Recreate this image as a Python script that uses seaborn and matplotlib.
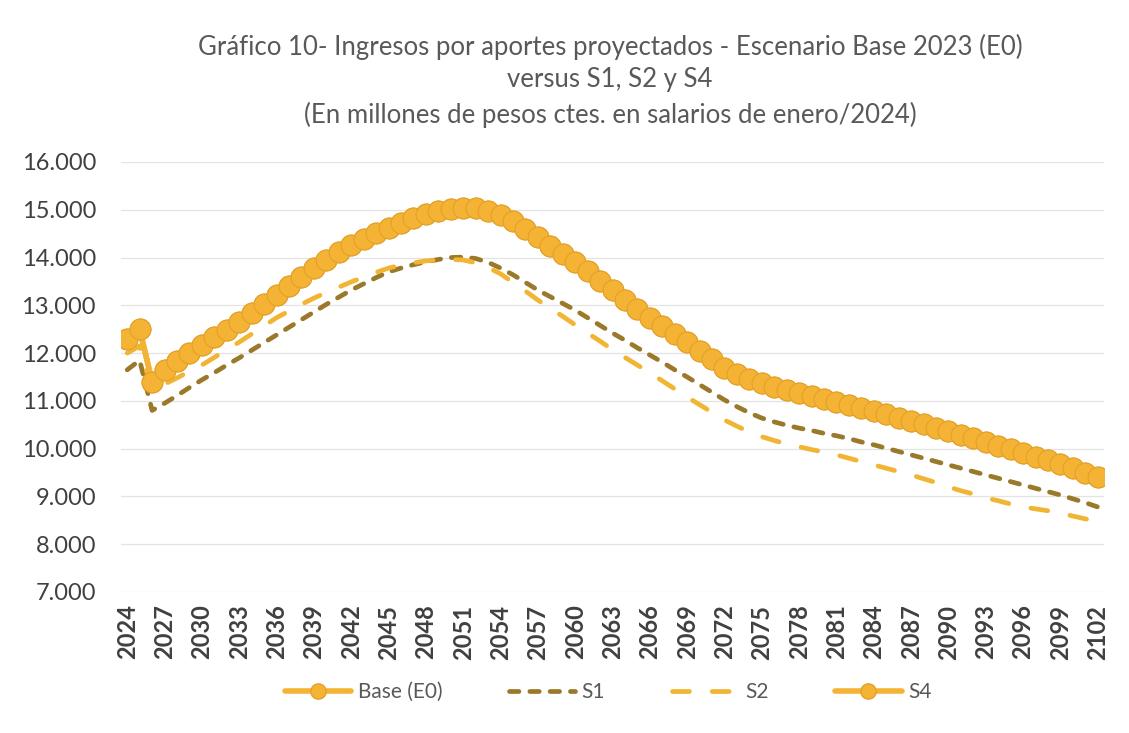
import numpy as np
import pandas as pd
import matplotlib
matplotlib.use("Agg")
import matplotlib.pyplot as plt
from matplotlib.lines import Line2D
from matplotlib.ticker import FuncFormatter, MultipleLocator
import seaborn as sns

years = list(range(2024, 2103))

base_e0 = [12300, 12500, 11400, 11650, 11830, 12000, 12170, 12330, 12490, 12650,
           12830, 13020, 13210, 13400, 13590, 13780, 13950, 14110, 14260, 14390,
           14510, 14620, 14730, 14830, 14920, 14980, 15020, 15040, 15030, 14980,
           14890, 14760, 14600, 14420, 14250, 14080, 13900, 13710, 13510, 13320,
           13120, 12930, 12740, 12570, 12400, 12230, 12050, 11870, 11690, 11560,
           11460, 11380, 11300, 11230, 11170, 11110, 11040, 10980, 10920, 10860,
           10790, 10720, 10650, 10580, 10510, 10440, 10370, 10290, 10220, 10140,
           10060, 9990, 9910, 9830, 9760, 9680, 9590, 9500, 9410]

s1 = [11650, 11850, 10800, 10950, 11110, 11280, 11440, 11590, 11750, 11900,
      12060, 12220, 12380, 12540, 12700, 12860, 13020, 13170, 13320, 13450,
      13580, 13700, 13780, 13850, 13910, 13960, 14000, 14010, 13980, 13900,
      13780, 13640, 13480, 13320, 13180, 13040, 12900, 12740, 12580, 12420,
      12270, 12110, 11960, 11810, 11650, 11500, 11340, 11180, 11020, 10880,
      10750, 10640, 10560, 10490, 10430, 10380, 10320, 10270, 10210, 10140,
      10080, 10010, 9940, 9870, 9800, 9730, 9660, 9590, 9520, 9450,
      9380, 9310, 9240, 9170, 9100, 9030, 8950, 8870, 8780]

s2 = [12000, 12150, 11200, 11350, 11480, 11620, 11750, 11910, 12070, 12230,
      12400, 12570, 12740, 12880, 13020, 13150, 13270, 13380, 13490, 13590,
      13690, 13780, 13840, 13890, 13930, 13950, 13960, 13950, 13890, 13790,
      13660, 13480, 13300, 13110, 12940, 12770, 12590, 12420, 12250, 12070,
      11910, 11750, 11590, 11420, 11250, 11080, 10920, 10760, 10600, 10470,
      10350, 10250, 10170, 10100, 10040, 9980, 9930, 9870, 9800, 9730,
      9660, 9590, 9520, 9450, 9370, 9290, 9200, 9120, 9050, 8970,
      8910, 8840, 8780, 8740, 8700, 8650, 8590, 8530, 8470]

s4 = list(base_e0)

series_names = ["Base (E0)", "S1", "S2", "S4"]
title_lines = ["Gráfico 10- Ingresos por aportes proyectados - Escenario Base 2023 (E0)",
               "versus S1, S2 y S4",
               "(En millones de pesos ctes. en salarios de enero/2024)"]

FONT = ["Lato", "DejaVu Sans"]
sns.set_theme(style="white")
plt.rcParams["font.family"] = FONT

C_BASE = "#F5B335"
C_BASE_EDGE = "#E3A128"
C_S1 = "#9A7A2A"
C_S2 = "#F2B533"
GRAY = "#595959"

fig = plt.figure(figsize=(11.29, 7.33), dpi=100)
ax = fig.add_axes([121 / 1129, 1 - 592 / 733, (1104 - 121) / 1129, (592 - 162) / 733])

def draw(vals, color, **kw):
    df = pd.DataFrame({"year": years, "value": vals})
    sns.lineplot(data=df, x="year", y="value", ax=ax, color=color,
                 errorbar=None, sort=False, **kw)
    return ax.lines[-1]

l_base = draw(base_e0, C_BASE, lw=4, marker="o", markersize=15,
              markerfacecolor=C_BASE, markeredgecolor=C_BASE_EDGE, markeredgewidth=0.8)
l_s1 = draw(s1, C_S1, lw=3.4)
l_s1.set_dashes((2.0, 2.3))
l_s1.set_dash_capstyle("round")
l_s2 = draw(s2, C_S2, lw=3.4)
l_s2.set_dashes((3.6, 4.8))
l_s2.set_dash_capstyle("round")
l_s4 = draw(s4, C_BASE, lw=4, marker="o", markersize=15,
            markerfacecolor=C_BASE, markeredgecolor=C_BASE_EDGE, markeredgewidth=0.8)

ax.set_xlim(2023.5, 2102.5)
ax.set_ylim(7000, 16000)
ax.yaxis.set_major_locator(MultipleLocator(1000))
ax.yaxis.set_major_formatter(FuncFormatter(lambda v, p: f"{int(round(v)):,}".replace(",", ".")))
ax.set_xticks(years[::3])
ax.set_xticklabels([str(y) for y in years[::3]], rotation=90, fontsize=17,
                   fontweight="bold", color="#404040")
ax.tick_params(axis="y", labelsize=17, labelcolor="#404040", length=0, pad=18)
ax.tick_params(axis="x", length=0, pad=9)
ax.set_xlabel("")
ax.set_ylabel("")
ax.grid(axis="y", color="#E3E3E3", lw=0.9)
ax.grid(axis="x", visible=False)
ax.set_axisbelow(True)
for sp in ax.spines.values():
    sp.set_visible(False)

for ty, t in zip([47, 80, 115], title_lines):
    fig.text(610 / 1129, 1 - ty / 733, t, ha="center", va="center",
             fontsize=18.5, color=GRAY, fontweight="normal")

handles = [
    Line2D([], [], color=C_BASE, lw=4, marker="o", markersize=11,
           markerfacecolor=C_BASE, markeredgecolor=C_BASE_EDGE),
    Line2D([], [], color=C_S1, lw=3.4, dashes=(2.0, 2.3), dash_capstyle="round"),
    Line2D([], [], color=C_S2, lw=3.4, dashes=(3.6, 4.8), dash_capstyle="round"),
    Line2D([], [], color=C_BASE, lw=4, marker="o", markersize=11,
           markerfacecolor=C_BASE, markeredgecolor=C_BASE_EDGE),
]
leg = fig.legend(handles, series_names, loc="center", bbox_to_anchor=(608 / 1129, 1 - 692 / 733),
                 ncol=4, frameon=False, fontsize=15, handlelength=3.2,
                 handletextpad=0.3, columnspacing=3.2)
for t in leg.get_texts():
    t.set_color(GRAY)

fig.savefig("out.png", dpi=100, facecolor="white")
